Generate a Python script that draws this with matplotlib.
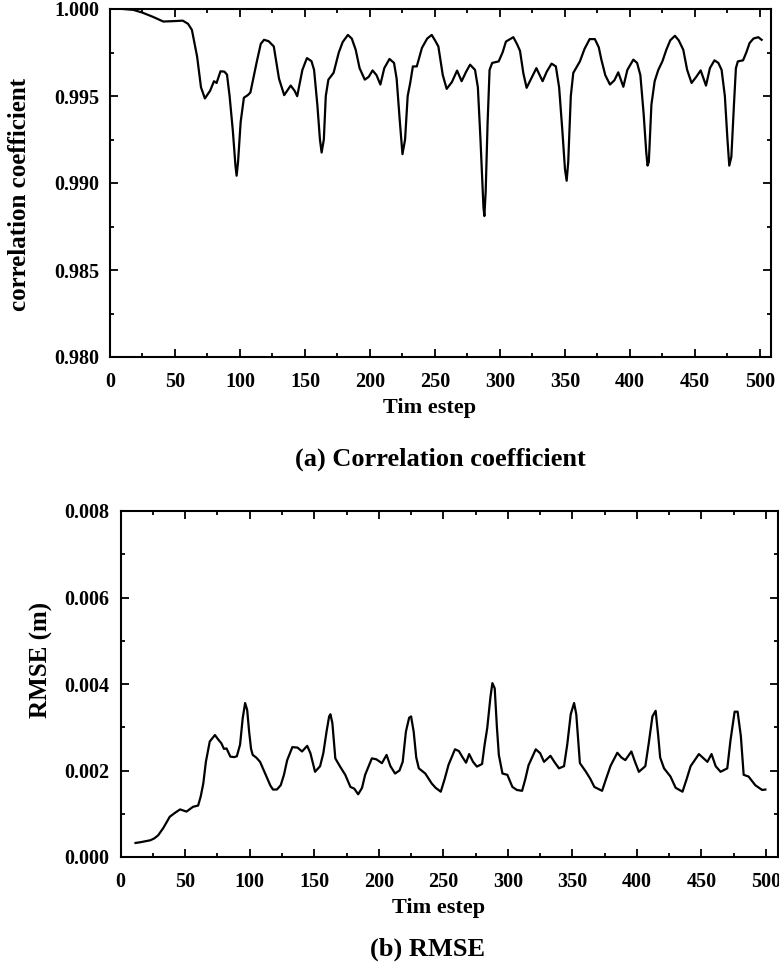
import matplotlib
matplotlib.use("Agg")
import matplotlib.pyplot as plt
from matplotlib.ticker import MultipleLocator, FormatStrFormatter

# ---- data: correlation coefficient ----
cc_x = [10, 18, 25, 33, 41, 48, 56, 60, 63, 67, 70, 73, 77, 80, 82, 85, 88, 90, 92, 94.5,
        96.5, 97.4, 98.5, 100.5, 103, 106, 108, 113, 116, 118.5, 122, 126, 130, 134, 139, 142,
        144, 148, 151.5, 155, 157, 159.5, 161.5, 162.8, 164.5, 166, 168, 172, 176, 179, 183,
        186, 189, 192, 196, 199, 202, 205, 208, 211, 215, 218.5, 220.5, 223, 225, 227, 229,
        231, 233, 236, 240, 244, 247.5, 250, 252.6, 256, 259, 263, 267, 270.5, 274, 277,
        280.8, 283, 285, 286.5, 287.3, 288, 289, 290.5, 292, 294, 299, 302, 304.6, 310.3,
        313, 315.4, 318, 320.5, 324, 328, 332.8, 336, 339.7, 343, 345.5, 348, 350, 351.3,
        352.5, 354.5, 356.4, 361.5, 365, 369, 373, 376, 378, 381, 384.6, 388, 391, 394.9,
        398, 402.6, 405.5, 408, 410.5, 412.5, 413.5, 414.5, 416.5, 419, 421.8, 425, 428, 431,
        434.6, 437.5, 441, 444, 447.4, 451, 454.4, 458.5, 461.5, 465, 468, 470.5, 473, 475,
        476.4, 478, 480, 481.5, 483, 487, 489.5, 492, 495, 498.7, 501.3]
cc_y = [1.0000, 0.99995, 0.99979, 0.99955, 0.99928, 0.99930, 0.99933, 0.99915, 0.9988,
        0.99727, 0.9955, 0.99486, 0.9953, 0.99585, 0.99575, 0.99642, 0.99640, 0.99623,
        0.9950, 0.9930, 0.9910, 0.99042, 0.9912, 0.9935, 0.9949, 0.99505, 0.9952, 0.9970,
        0.9980, 0.99823, 0.99815, 0.99785, 0.9960, 0.99505, 0.9956, 0.9953, 0.99499, 0.9965,
        0.99718, 0.9970, 0.9965, 0.9945, 0.9925, 0.99175, 0.9925, 0.9950, 0.99594, 0.99633,
        0.9975, 0.9981, 0.99851, 0.9983, 0.99766, 0.9966, 0.99594, 0.9961, 0.99647, 0.9962,
        0.99566, 0.9966, 0.99713, 0.9969, 0.9960, 0.9935, 0.99166, 0.9925, 0.9950, 0.99577,
        0.9967, 0.9967, 0.99777, 0.9983, 0.99851, 0.9982, 0.99785, 0.9962, 0.99541, 0.9958,
        0.99646, 0.99585, 0.9964, 0.9968, 0.9965, 0.9955, 0.9925, 0.9900, 0.9886, 0.9881,
        0.9895, 0.9935, 0.9965, 0.9969, 0.99699, 0.9975, 0.99813, 0.99838, 0.9980, 0.9976,
        0.9963, 0.99547, 0.9960, 0.9966, 0.99585, 0.9964, 0.99686, 0.9967, 0.9955, 0.9930,
        0.9908, 0.99013, 0.9912, 0.9950, 0.99633, 0.99699, 0.9977, 0.99827, 0.99827, 0.9978,
        0.99709, 0.9962, 0.99566, 0.9959, 0.99636, 0.99553, 0.9965, 0.99709, 0.9969, 0.9962,
        0.9940, 0.9918, 0.9910, 0.9912, 0.9945, 0.99585, 0.9965, 0.9970, 0.99766, 0.9982,
        0.99846, 0.9982, 0.99766, 0.9965, 0.99575, 0.9961, 0.99647, 0.9956, 0.9966, 0.99705,
        0.9969, 0.9965, 0.9950, 0.9925, 0.9910, 0.9915, 0.9945, 0.9966, 0.99699, 0.99705,
        0.9975, 0.99804, 0.9983, 0.99838, 0.99823]

# ---- data: RMSE ----
rmse_x = [11.5, 15, 23, 26, 29, 33, 38, 42, 46, 51, 56, 60, 62, 64, 66, 69, 73, 76, 78, 80,
          82, 85, 88, 90, 92.5, 94.5, 96.4, 98, 99.5, 101, 102.3, 105, 108, 113, 116, 118, 121,
          124, 126.5, 129, 133, 137, 140.5, 144.5, 147, 150.6, 154.5, 157, 159.5, 161.5, 162.5,
          164, 166.3, 170, 174, 178, 181, 184, 187, 189.4, 194.6, 198, 202.4, 206, 209, 212.6,
          216, 218.5, 221, 223.5, 225, 227, 229, 231, 236, 241, 244, 248, 251, 254, 259, 262,
          265, 267.6, 270, 273, 276, 280, 282, 284, 286.5, 288, 289.8, 291.5, 293, 295.8, 299.6,
          303.5, 307, 311, 313.5, 316, 321.6, 325, 328, 333, 336, 339.6, 343.5, 346, 348.7,
          351.3, 353, 355.8, 360.5, 364, 367, 373, 376, 379.6, 384.8, 388, 391, 395.7, 398.5,
          401.5, 406.5, 409, 412, 414.5, 416.5, 418, 421, 426, 430, 435.3, 438.5, 441.6, 448,
          454.6, 457.8, 461, 464.8, 470, 472.5, 475.7, 478, 480.5, 482.7, 486.5, 491.7, 497,
          499.5]
rmse_y = [0.000325, 0.00034, 0.000387, 0.00043, 0.0005, 0.00067, 0.00093, 0.00102, 0.0011,
          0.00105, 0.00116, 0.00119, 0.0014, 0.0017, 0.0022, 0.00267, 0.00282, 0.0027, 0.00263,
          0.0025, 0.00251, 0.00232, 0.00231, 0.00233, 0.0026, 0.0032, 0.00356, 0.0034, 0.0029,
          0.0025, 0.00236, 0.0023, 0.0022, 0.00186, 0.00165, 0.00156, 0.00156, 0.00166, 0.0019,
          0.00224, 0.00254, 0.00253, 0.00244, 0.00257, 0.0024, 0.00197, 0.0021, 0.0024, 0.0029,
          0.00325, 0.0033, 0.0031, 0.00228, 0.00209, 0.0019, 0.00162, 0.00158, 0.00145, 0.0016,
          0.0019, 0.00228, 0.00226, 0.00217, 0.00236, 0.0021, 0.00193, 0.002, 0.0022, 0.0029,
          0.00322, 0.00325, 0.0029, 0.0023, 0.00205, 0.00193, 0.0017, 0.0016, 0.00151, 0.0018,
          0.00213, 0.00249, 0.00245, 0.0023, 0.00218, 0.00238, 0.0022, 0.00209, 0.00215, 0.0026,
          0.00298, 0.0037, 0.00402, 0.0039, 0.003, 0.00236, 0.00193, 0.0019, 0.00162, 0.00155,
          0.00153, 0.0018, 0.00212, 0.00249, 0.0024, 0.0022, 0.00234, 0.0022, 0.00205, 0.0021,
          0.0026, 0.0033, 0.00356, 0.0033, 0.00217, 0.00197, 0.0018, 0.00162, 0.00153, 0.0018,
          0.00211, 0.00241, 0.0023, 0.00224, 0.00244, 0.0022, 0.00197, 0.0021, 0.0026, 0.00325,
          0.00338, 0.0028, 0.0023, 0.00205, 0.00186, 0.0016, 0.00151, 0.0018, 0.0021, 0.00238,
          0.0022, 0.00238, 0.0021, 0.00197, 0.00205, 0.0027, 0.00336, 0.00336, 0.0028, 0.0019,
          0.00186, 0.00166, 0.00155, 0.00156]

x_label = "Tim estep"
cc_ylabel = "correlation coefficient"
rmse_ylabel = "RMSE (m)"
caption_a = "(a) Correlation coefficient"
caption_b = "(b) RMSE"

plt.rcParams['font.family'] = ['Liberation Serif', 'DejaVu Serif']
plt.rcParams['font.weight'] = 'bold'

W, H = 779, 965
fig = plt.figure(figsize=(W / 100, H / 100), dpi=100)


def px_rect(x0, y0, x1, y1):
    return [x0 / W, 1 - y1 / H, (x1 - x0) / W, (y1 - y0) / H]


def style(ax, ymajor, yminor, fmt):
    for s in ax.spines.values():
        s.set_linewidth(1.5)
    ax.xaxis.set_major_locator(MultipleLocator(50))
    ax.xaxis.set_minor_locator(MultipleLocator(25))
    ax.yaxis.set_major_locator(MultipleLocator(ymajor))
    ax.yaxis.set_minor_locator(MultipleLocator(yminor))
    ax.yaxis.set_major_formatter(FormatStrFormatter(fmt))
    ax.tick_params(which='both', direction='in', top=True, right=True, width=1.3)
    ax.tick_params(which='major', length=6)
    ax.tick_params(which='minor', length=3)
    ax.tick_params(axis='x', which='major', pad=11, labelsize=14.5)
    ax.tick_params(axis='y', which='major', pad=8, labelsize=14.5)
    for lab in ax.get_xticklabels() + ax.get_yticklabels():
        lab.set_fontweight('bold')


ax1 = fig.add_axes(px_rect(110, 9, 771, 357))
ax1.plot(cc_x, cc_y, color='black', lw=1.6)
ax1.set_xlim(0, 508.5)
ax1.set_ylim(0.980, 1.000)
style(ax1, 0.005, 0.0025, '%.3f')

ax2 = fig.add_axes(px_rect(120.7, 511, 778, 857))
ax2.plot(rmse_x, rmse_y, color='black', lw=1.6)
ax2.set_xlim(0, 509.3)
ax2.set_ylim(0.0, 0.008)
style(ax2, 0.002, 0.001, '%.3f')

# text elements
fig.text(20 / W, 1 - 194 / H, cc_ylabel, rotation=90, ha='center', va='center',
         fontsize=18, fontweight='bold')
fig.text(41 / W, 1 - 660 / H, rmse_ylabel, rotation=90, ha='center', va='center',
         fontsize=18, fontweight='bold')
fig.text(383 / W, 1 - 413 / H, x_label, ha='left', va='baseline', fontsize=16, fontweight='bold')
fig.text(392 / W, 1 - 913 / H, x_label, ha='left', va='baseline', fontsize=16, fontweight='bold')
fig.text(440 / W, 1 - 466 / H, caption_a, ha='center', va='baseline', fontsize=19, fontweight='bold')
fig.text(370 / W, 1 - 956 / H, caption_b, ha='left', va='baseline', fontsize=19, fontweight='bold')

fig.savefig('out.png', dpi=100)
